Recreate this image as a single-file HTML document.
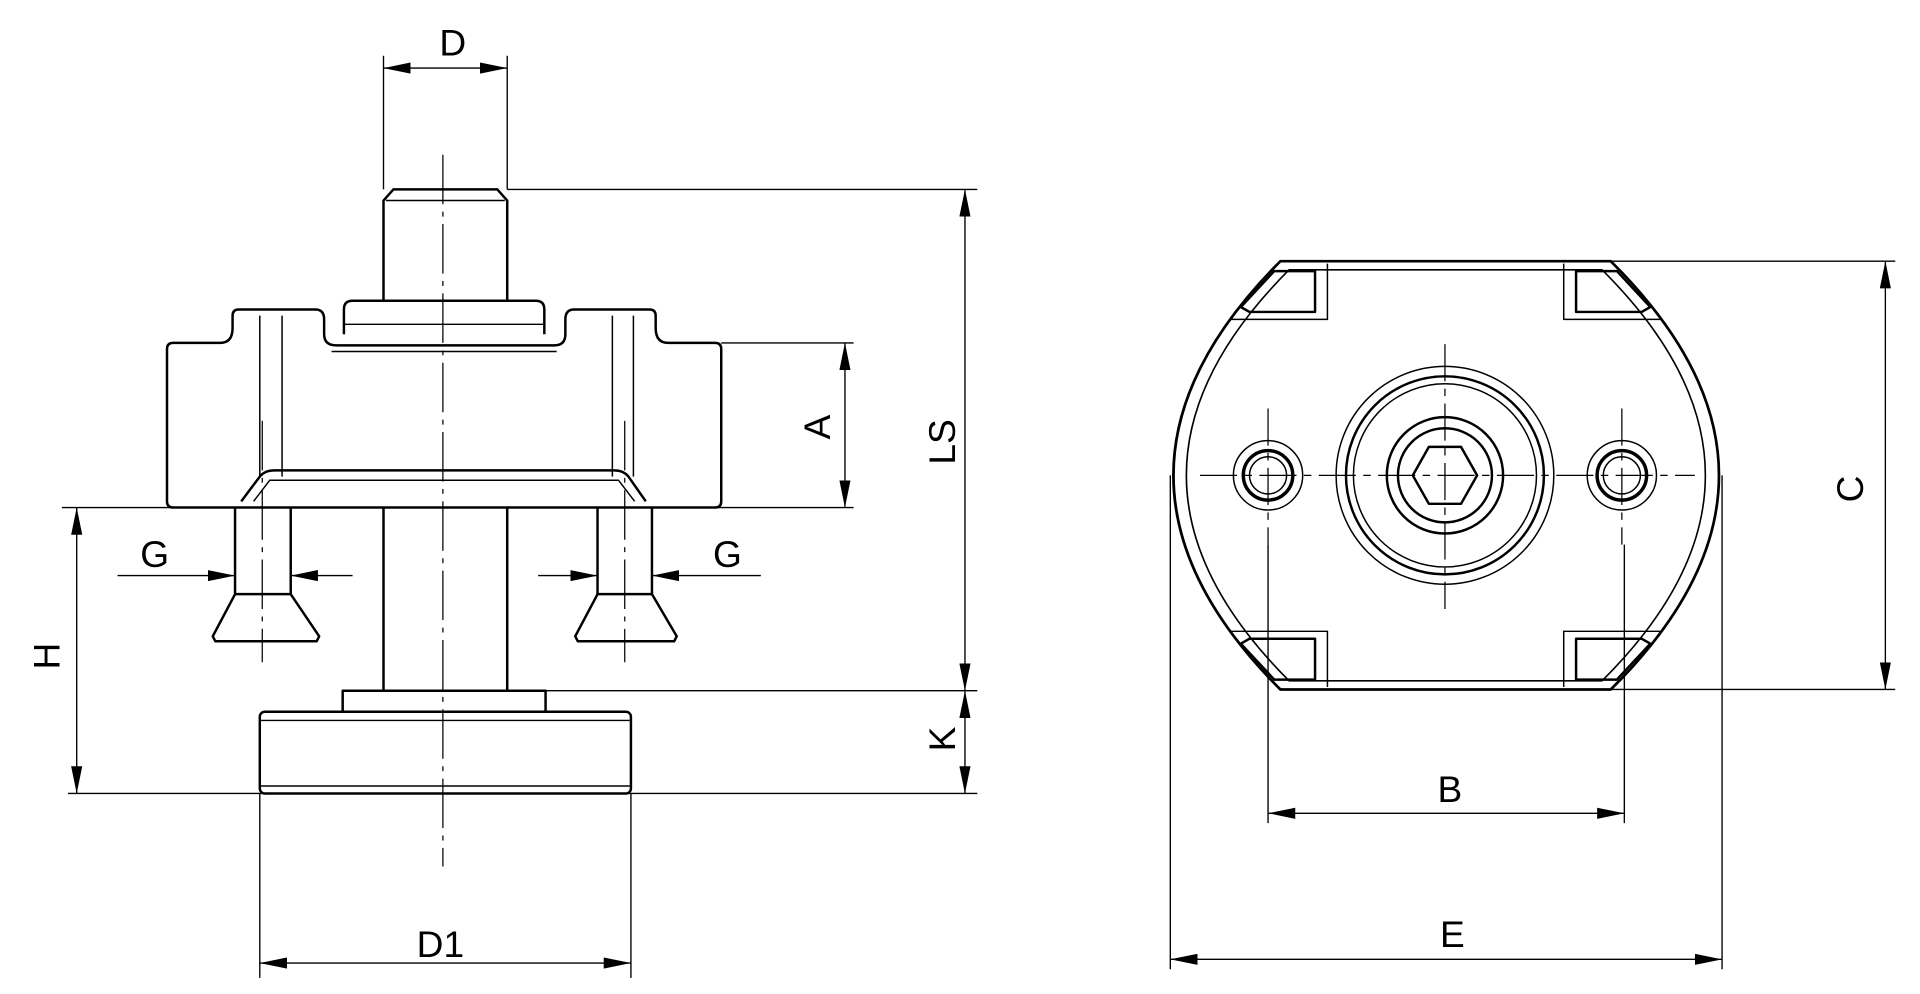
<!DOCTYPE html>
<html><head><meta charset="utf-8"><style>html,body{margin:0;padding:0;background:#fff}svg{display:block}text{font-family:"Liberation Sans",sans-serif;font-size:30px;fill:#000}</style></head>
<body>
<svg width="1920" height="994" viewBox="0 0 1552 803" preserveAspectRatio="none" xmlns="http://www.w3.org/2000/svg">
<defs>
<marker id="a" viewBox="0 0 22 9" refX="22" refY="4.5" markerWidth="22" markerHeight="9" markerUnits="userSpaceOnUse" orient="auto-start-reverse"><path d="M0,0 L22,4.5 L0,9 z" fill="#000"/></marker>
</defs>
<g fill="none" stroke="#000" stroke-width="2" stroke-linejoin="round">
<!-- pin -->
<path d="M310,243 L310,162 L318,153 L402,153 L410,162 L410,243"/>
<line x1="312" y1="162" x2="408" y2="162" stroke-width="1.2"/>
<!-- body -->
<path d="M135,405 L135,282 Q135,277 140,277 L178,277 Q188,277 188,265 L188,255 Q188,250 193,250 L255,250 Q262,250 262,258 L262,270 Q262,279 272,279 L448,279 Q457,279 457,270 L457,258 Q457,250 464,250 L525,250 Q530,250 530,255 L530,265 Q530,277 540,277 L578,277 Q583,277 583,282 L583,405 Q583,410 578,410 L140,410 Q135,410 135,405 Z"/>
<path d="M278,270 L278,250 Q278,243 285,243 L433,243 Q440,243 440,250 L440,270"/>
<line x1="278" y1="262" x2="440" y2="262" stroke-width="1.2"/>
<line x1="268" y1="284" x2="450" y2="284" stroke-width="1.2"/>
<path d="M210,255 L210,385 M228,255 L228,385 M495,255 L495,385 M512,255 L512,385" stroke-width="1.2"/>
<path d="M195,405 L210,385 Q214,380 222,380 L496,380 Q504,380 508,385 L522,405"/>
<path d="M205,405 L218,388 L500,388 L513,405" stroke-width="1.2"/>
<!-- shaft -->
<path d="M310,410 L310,558 M410,410 L410,558"/>
<!-- screws -->
<path d="M190,410 L190,480 L172,514 L174,518 L256,518 L258,514 L235,480 L235,410"/>
<line x1="190" y1="480" x2="235" y2="480"/>
<path d="M483,410 L483,480 L465,514 L467,518 L545,518 L547,514 L527,480 L527,410"/>
<line x1="483" y1="480" x2="527" y2="480"/>
<!-- pad -->
<rect x="277" y="558" width="164" height="17"/>
<rect x="210" y="575" width="300" height="66" rx="4"/>
<path d="M211,582 L509,582 M211,635 L509,635" stroke-width="1.2"/>
</g>
<!-- centerlines -->
<g stroke="#000" stroke-width="1" fill="none" stroke-dasharray="40,6,4,6">
<line x1="358" y1="125" x2="358" y2="700"/>
<line x1="212" y1="340" x2="212" y2="535"/>
<line x1="505" y1="340" x2="505" y2="535"/>
</g>
<!-- dims left -->
<g stroke="#000" stroke-width="1.1" fill="none">
<path d="M310,45 L310,153 M410,45 L410,153"/>
<line x1="310" y1="55" x2="410" y2="55" marker-start="url(#a)" marker-end="url(#a)"/>
<path d="M410,153 L790,153 M441,558 L790,558 M55,641 L790,641 M583,277 L690,277 M50,410 L690,410"/>
<line x1="780" y1="153" x2="780" y2="558" marker-start="url(#a)" marker-end="url(#a)"/>
<line x1="780" y1="558" x2="780" y2="641" marker-start="url(#a)" marker-end="url(#a)"/>
<line x1="683" y1="277" x2="683" y2="410" marker-start="url(#a)" marker-end="url(#a)"/>
<line x1="62" y1="410" x2="62" y2="641" marker-start="url(#a)" marker-end="url(#a)"/>
<line x1="95" y1="465" x2="190" y2="465" marker-end="url(#a)"/>
<line x1="285" y1="465" x2="235" y2="465" marker-end="url(#a)"/>
<line x1="435" y1="465" x2="483" y2="465" marker-end="url(#a)"/>
<line x1="615" y1="465" x2="527" y2="465" marker-end="url(#a)"/>
<path d="M210,641 L210,790 M510,641 L510,790"/>
<line x1="210" y1="778" x2="510" y2="778" marker-start="url(#a)" marker-end="url(#a)"/>
</g>
<text x="366" y="45" text-anchor="middle">D</text>
<text x="125" y="458" text-anchor="middle">G</text>
<text x="588" y="458" text-anchor="middle">G</text>
<text x="356" y="773" text-anchor="middle">D1</text>
<text transform="translate(671,345) rotate(-90)" text-anchor="middle">A</text>
<text transform="translate(772,357) rotate(-90)" text-anchor="middle">LS</text>
<text transform="translate(772,597) rotate(-90)" text-anchor="middle">K</text>
<text transform="translate(48,530) rotate(-90)" text-anchor="middle">H</text>
<!-- right view -->
<g fill="none" stroke="#000" stroke-width="2.2" stroke-linejoin="round">
<path d="M1035,211 L1302,211 Q1477,384 1302,557 L1035,557 Q862,384 1035,211 Z"/>
<path d="M1042,218 L1295,218 Q1462,384 1295,550 L1042,550 Q876,384 1042,218 Z" stroke-width="1.3"/>
<!-- pockets -->
<path d="M1003,248 L1030,219 L1063,219 L1063,252 L1010,252 Z" stroke-width="2"/>
<path d="M995,258 L1073,258 L1073,213" stroke-width="1.2"/>
<path d="M1334,248 L1307,219 L1274,219 L1274,252 L1327,252 Z" stroke-width="2"/>
<path d="M1342,258 L1264,258 L1264,213" stroke-width="1.2"/>
<path d="M1003,520 L1030,549 L1063,549 L1063,516 L1010,516 Z" stroke-width="2"/>
<path d="M995,510 L1073,510 L1073,555" stroke-width="1.2"/>
<path d="M1334,520 L1307,549 L1274,549 L1274,516 L1327,516 Z" stroke-width="2"/>
<path d="M1342,510 L1264,510 L1264,555" stroke-width="1.2"/>
<!-- center -->
<circle cx="1168" cy="384" r="88" stroke-width="1.2"/>
<circle cx="1168" cy="384" r="80" stroke-width="2"/>
<circle cx="1168" cy="384" r="74" stroke-width="1.2"/>
<circle cx="1168" cy="384" r="47" stroke-width="2"/>
<circle cx="1168" cy="384" r="38" stroke-width="2"/>
<path d="M1142,384 L1155,361 L1181,361 L1194,384 L1181,407 L1155,407 Z" stroke-width="2"/>
<!-- side holes -->
<circle cx="1025" cy="384" r="28" stroke-width="1.2"/>
<circle cx="1025" cy="384" r="20" stroke-width="2.8"/>
<circle cx="1025" cy="384" r="15" stroke-width="1.2"/>
<circle cx="1311" cy="384" r="28" stroke-width="1.2"/>
<circle cx="1311" cy="384" r="20" stroke-width="2.8"/>
<circle cx="1311" cy="384" r="15" stroke-width="1.2"/>
</g>
<g stroke="#000" stroke-width="1" fill="none" stroke-dasharray="30,6,6,6">
<line x1="970" y1="384" x2="1370" y2="384"/>
<line x1="1168" y1="278" x2="1168" y2="492"/>
<line x1="1025" y1="330" x2="1025" y2="440"/>
<line x1="1311" y1="330" x2="1311" y2="440"/>
</g>
<g stroke="#000" stroke-width="1.1" fill="none">
<path d="M1302,211 L1532,211 M1302,557 L1532,557"/>
<line x1="1524" y1="211" x2="1524" y2="557" marker-start="url(#a)" marker-end="url(#a)"/>
<path d="M1025,440 L1025,665 M1313,440 L1313,665"/>
<line x1="1025" y1="657" x2="1313" y2="657" marker-start="url(#a)" marker-end="url(#a)"/>
<path d="M946,384 L946,783 M1392,384 L1392,783"/>
<line x1="946" y1="775" x2="1392" y2="775" marker-start="url(#a)" marker-end="url(#a)"/>
</g>
<text transform="translate(1506,395) rotate(-90)" text-anchor="middle">C</text>
<text x="1172" y="648" text-anchor="middle">B</text>
<text x="1174" y="765" text-anchor="middle">E</text>
</svg>
</body></html>
